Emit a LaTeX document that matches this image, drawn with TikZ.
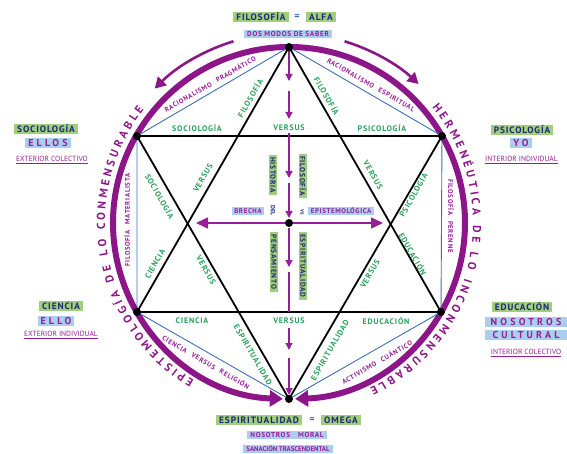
\documentclass[tikz,border=0pt]{standalone}
\usepackage{fontspec}
\setmainfont{PT Sans}
\newfontfamily\spf[LetterSpace=10]{PT Sans}
\newfontfamily\wspf[LetterSpace=32]{PT Sans}
\usetikzlibrary{arrows.meta,decorations.text}
\definecolor{ringp}{RGB}{140,22,135}
\definecolor{purp}{RGB}{150,30,150}
\definecolor{navy}{RGB}{30,40,120}
\definecolor{gfill}{RGB}{160,206,125}
\definecolor{bfill}{RGB}{172,206,238}
\definecolor{grn}{RGB}{40,160,90}
\definecolor{bline}{RGB}{60,110,185}
\tikzset{
  gbox/.style={fill=gfill, text=navy, inner xsep=3pt, inner ysep=1.3pt, font=\spf\bfseries\fontsize{9.3}{10}\selectfont},
  bbox/.style={fill=bfill, text=purp, inner xsep=3pt, inner ysep=1.3pt, font=\wspf\bfseries\fontsize{10}{11}\selectfont},
  sbox/.style={fill=bfill, text=purp, inner xsep=3pt, inner ysep=1.3pt, font=\spf\bfseries\fontsize{7.2}{8}\selectfont},
  cgbox/.style={fill=gfill, text=navy, inner xsep=2.5pt, inner ysep=1.2pt, font=\spf\bfseries\fontsize{7.4}{8}\selectfont},
  cbbox/.style={fill=bfill, text=purp, inner xsep=2.5pt, inner ysep=1.2pt, font=\spf\bfseries\fontsize{6.8}{7}\selectfont},
  ctext/.style={text=navy, inner sep=0.5pt, font=\bfseries\fontsize{6}{7}\selectfont},
  glab/.style={text=grn, inner sep=1pt, font=\spf\bfseries\fontsize{8}{9}\selectfont},
  plab/.style={text=purp, inner sep=1pt, font=\spf\bfseries\fontsize{6.8}{7}\selectfont},
  ulab/.style={text=purp, inner sep=1pt, font=\fontsize{7.5}{8}\selectfont},
  eqs/.style={text=bline, inner sep=0pt, font=\bfseries\fontsize{10}{10}\selectfont},
  dot/.style={circle, fill=black, minimum size=8pt, inner sep=0pt},
  parr/.style={purp, line width=1.2pt, -{Triangle[width=7pt,length=7pt]}},
  ringline/.style={ringp, line width=6pt, -{Triangle[width=16pt,length=13pt]}},
  toparr/.style={ringp, line width=2.6pt, -{Triangle[width=12pt,length=11pt]}},
  ringtext/.style={decorate, decoration={text along path, text align=fit to path, text={#1}}}
}
\begin{document}
\begin{tikzpicture}[x=1pt,y=-1pt]
\useasboundingbox (0,0) rectangle (567,454);
% key points
\coordinate (C) at (289,223);
\coordinate (T) at (289,47);
\coordinate (UL) at (137,136);
\coordinate (UR) at (442,136);
\coordinate (LL) at (137,312);
\coordinate (LR) at (441,312);
\coordinate (B) at (289,399);

% ring
\draw[ringline] (C) ++(270:176) arc[start angle=270, end angle=92, radius=176];
\draw[ringline] (C) ++(-90:176) arc[start angle=-90, end angle=88, radius=176];
\draw[toparr] (C) ++(-107:190) arc[start angle=-107, end angle=-135, radius=190];
\draw[toparr] (C) ++(-73:190) arc[start angle=-73, end angle=-47, radius=190];

% text on ring
\path[ringtext={|\color{ringp}\bfseries\fontsize{11.5}{12}\selectfont|EPISTEMOLOGÍA DE LO CONMENSURABLE}]
  (C) ++(121:184) arc[start angle=121, end angle=218, radius=184];
\path[ringtext={|\color{ringp}\bfseries\fontsize{11.5}{12}\selectfont|HERMENÉUTICA DE LO INCONMENSURABLE}]
  (C) ++(-39:184) arc[start angle=-39, end angle=64, radius=184];

% blue hexagon
\draw[bline, line width=0.9pt, line join=round] (T) -- (UL) -- (LL) -- (B) -- (LR) -- (UR) -- cycle;
% star
\draw[black, line width=1.8pt, line join=round] (T) -- (LL) -- (LR) -- cycle;
\draw[black, line width=1.8pt, line join=round] (B) -- (UL) -- (UR) -- cycle;

% central vertical arrows
\coordinate (v1) at (289,51);  \coordinate (v2) at (289,81);
\coordinate (v3) at (289,91);  \coordinate (v4) at (289,119);
\coordinate (v5) at (289,133); \coordinate (v6) at (289,136);
\coordinate (v7) at (289,178); \coordinate (v8) at (289,183);
\coordinate (v9) at (289,218); \coordinate (v10) at (289,228);
\coordinate (v11) at (289,267); \coordinate (v12) at (289,272);
\coordinate (v13) at (289,312); \coordinate (v13b) at (289,328);
\coordinate (v14) at (289,350);
\coordinate (v15) at (289,358); \coordinate (v16) at (289,395);
\draw[parr] (v1) -- (v2);
\draw[parr] (v3) -- (v4);
\draw[purp, line width=1.2pt] (v5) -- (v6);
\draw[parr] (v6) -- (v7);
\draw[parr] (v8) -- (v9);
\draw[parr] (v10) -- (v11);
\draw[purp, line width=1.2pt] (v12) -- (v13);
\draw[parr] (v13b) -- (v14);
\draw[parr] (v15) -- (v16);

% horizontal double arrow
\coordinate (hl) at (196,223);
\coordinate (hr) at (383,223);
\draw[purp, line width=1.5pt, {Triangle[width=11pt,length=12pt]}-{Triangle[width=11pt,length=12pt]}] (hl) -- (hr);

% dots
\foreach \p/\n in {T/dt, UL/dul, UR/dur, LL/dll, LR/dlr, B/db, C/dc}
  \node[dot] (\n) at (\p) {};

% center labels
\node[cgbox, rotate=-90] (hist) at (273,175) {HISTORIA};
\node[cgbox, rotate=-90] (filc) at (303,176) {FILOSOFÍA};
\node[cbbox] (brecha) at (248,211) {BRECHA};
\node[ctext, rotate=-90] (del) at (273,211) {DEL};
\node[ctext, rotate=-90] (vs) at (302,212) {vs};
\node[cbbox] (epi) at (341,211) {EPISTEMOLÓGICA};
\node[cgbox, rotate=-90] (pens) at (274,262) {PENSAMIENTO};
\node[cgbox, rotate=-90] (espc) at (303,266) {ESPIRITUALIDAD};

% green star labels
\node[glab] (g1) at (197,128) {SOCIOLOGÍA};
\node[glab, fill=white] (g2) at (289,128) {VERSUS};
\node[glab] (g3) at (382,128) {PSICOLOGÍA};
\node[glab, rotate=60] (g4) at (250,98) {FILOSOFÍA};
\node[glab, rotate=-60] (g5) at (327,96) {FILOSOFÍA};
\node[glab, rotate=-60] (g6) at (160,196) {SOCIOLOGÍA};
\node[glab, rotate=60] (g7) at (203,178) {VERSUS};
\node[glab, rotate=-60] (g8) at (373,175) {VERSUS};
\node[glab, rotate=60] (g9) at (413,195) {PSICOLOGÍA};
\node[glab, rotate=60] (g10) at (155,264) {CIENCIA};
\node[glab, rotate=-60] (g11) at (206,270) {VERSUS};
\node[glab, rotate=60] (g12) at (370,274) {VERSUS};
\node[glab, rotate=-60] (g13) at (413,254) {EDUCACIÓN};
\node[glab] (g14) at (192,321) {CIENCIA};
\node[glab, fill=white] (g15) at (289,321) {VERSUS};
\node[glab] (g16) at (386,321) {EDUCACIÓN};
\node[glab, rotate=-60] (g17) at (253,355) {ESPIRITUALIDAD};
\node[glab, rotate=60] (g18) at (330,350) {ESPIRITUALIDAD};

% purple edge labels
\node[plab, rotate=30] (p1) at (210,84) {RACIONALISMO\hspace{6pt}PRAGMÁTICO};
\node[plab, rotate=-30] (p2) at (371,85) {RACIONALISMO\hspace{6pt}ESPIRITUAL};
\node[plab, rotate=90] (p3) at (127,220) {FILOSOFÍA\hspace{6pt}MATERIALISTA};
\node[plab, rotate=-90] (p4) at (451,216) {FILOSOFÍA\hspace{6pt}PERENNE};
\node[plab, rotate=-30] (p5) at (206,362) {CIENCIA\hspace{6pt}VERSUS\hspace{6pt}RELIGIÓN};
\node[plab, rotate=30] (p6) at (377,362) {ACTIVISMO\hspace{6pt}CUÁNTICO};

% top labels
\node[gbox] (filt) at (261,17) {FILOSOFÍA};
\node[eqs] (eqt) at (297,17) {=};
\node[gbox] (alfa) at (321,17) {ALFA};
\node[sbox] (dos) at (288,34) {DOS MODOS DE SABER};

% left upper
\node[gbox] (soc) at (46,129) {SOCIOLOGÍA};
\node[bbox] (ellos) at (48,143) {ELLOS};
\node[ulab] (exc) at (52,160) {\underline{EXTERIOR COLECTIVO}};
% right upper
\node[gbox] (psi) at (522,130) {PSICOLOGÍA};
\node[bbox] (yo) at (521,143) {YO};
\node[ulab, anchor=west] (ini) at (484,160) {\underline{INTERIOR INDIVIDUAL}};
% left lower
\node[gbox] (cie) at (61,306) {CIENCIA};
\node[bbox] (ello) at (56,321) {ELLO};
\node[ulab] (exi) at (61,335) {\underline{EXTERIOR INDIVIDUAL}};
% right lower
\node[gbox] (edu) at (522,307) {EDUCACIÓN};
\node[bbox, minimum width=82pt] (nos) at (526,322) {NOSOTROS};
\node[bbox, minimum width=82pt] (cul) at (526,335) {CULTURAL};
\node[ulab] (inc) at (526,353) {\underline{INTERIOR COLECTIVO}};
% bottom
\node[gbox] (espb) at (259,420) {ESPIRITUALIDAD};
\node[eqs] (eqb) at (312,420) {=};
\node[gbox] (omega) at (341,420) {OMEGA};
\node[sbox] (nm) at (287,435) {NOSOTROS\hspace{8pt}MORAL};
\node[sbox, font=\bfseries\fontsize{6.8}{7}\selectfont] (san) at (288,449) {SANACIÓN TRASCENDENTAL};
\end{tikzpicture}
\end{document}
